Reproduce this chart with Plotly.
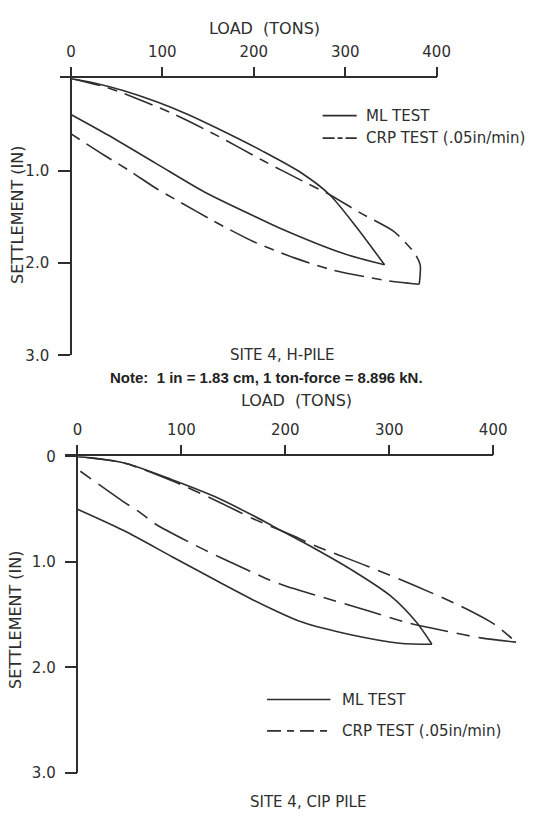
import plotly.graph_objects as go

W, H = 552, 823
INK = "#2e2e2e"
FONT = "DejaVu Sans"

# ---------------- data ----------------
load_ticks = [0, 100, 200, 300, 400]
load_tick_text = ["0", "100", "200", "300", "400"]
settle_ticks_top = [1, 2, 3]
settle_text_top = ["1.0", "2.0", "3.0"]
settle_ticks_bot = [0, 1, 2, 3]
settle_text_bot = ["0", "1.0", "2.0", "3.0"]

# Site 4, H-pile  (load in tons, settlement in inches)
h_ml_load_x = [0, 30, 57, 93, 128, 160, 210, 253, 283, 313, 343]
h_ml_load_y = [0, 0.06, 0.13, 0.25, 0.39, 0.54, 0.79, 1.03, 1.26, 1.62, 2.02]
h_ml_unload_x = [343, 299, 228, 200, 146, 93, 40, 0]
h_ml_unload_y = [2.02, 1.90, 1.62, 1.49, 1.23, 0.92, 0.61, 0.39]
h_crp_load_x = [0, 40, 80, 111, 160, 210, 253, 283, 317, 352, 366, 377, 382, 382, 381]
h_crp_load_y = [0, 0.10, 0.25, 0.38, 0.62, 0.89, 1.11, 1.26, 1.46, 1.65, 1.78, 1.91, 2.02, 2.12, 2.23]
h_crp_unload_x = [381, 370, 345, 288, 246, 200, 157, 114, 93, 64, 36, 0]
h_crp_unload_y = [2.23, 2.22, 2.19, 2.08, 1.95, 1.77, 1.55, 1.31, 1.19, 1.00, 0.83, 0.60]

# Site 4, CIP pile
c_ml_load_x = [0, 44, 91, 132, 169, 188, 226, 263, 301, 326, 341]
c_ml_load_y = [0, 0.06, 0.22, 0.38, 0.56, 0.66, 0.86, 1.07, 1.32, 1.57, 1.78]
c_ml_unload_x = [341, 310, 263, 216, 188, 169, 138, 91, 44, 0]
c_ml_unload_y = [1.78, 1.77, 1.69, 1.57, 1.45, 1.36, 1.20, 0.95, 0.70, 0.50]
c_crp_load_x = [0, 44, 91, 138, 169, 207, 232, 279, 326, 369, 401, 422]
c_crp_load_y = [0, 0.06, 0.23, 0.44, 0.59, 0.75, 0.86, 1.04, 1.23, 1.42, 1.59, 1.76]
c_crp_unload_x = [422, 388, 357, 319, 282, 248, 201, 182, 169, 138, 107, 75, 60, 43, 0]
c_crp_unload_y = [1.76, 1.72, 1.66, 1.58, 1.47, 1.37, 1.23, 1.16, 1.10, 0.96, 0.81, 0.64, 0.53, 0.42, 0.12]

legend_labels = ["ML TEST", "CRP TEST (.05in/min)"]
captions = ["SITE 4, H-PILE", "SITE 4, CIP PILE"]
note_text = "Note:  1 in = 1.83 cm, 1 ton-force = 8.896 kN."
x_title = "LOAD  (TONS)"
y_title = "SETTLEMENT (IN)"

# ---------------- helpers ----------------
def fx(p):
    return p / W

def fy(p):
    return 1 - p / H

TOP_DASH = "30px,8px,10px,8px"
BOT_DASH = "38px,9px,13px,9px"

def curve(x, y, xa, ya, dash="solid"):
    return go.Scatter(x=x, y=y, mode="lines", xaxis=xa, yaxis=ya,
                      line=dict(color=INK, width=1.6, dash=dash, shape="spline", smoothing=0.8),
                      showlegend=False, hoverinfo="skip")

fig = go.Figure()
fig.add_trace(curve(h_ml_load_x, h_ml_load_y, "x", "y"))
fig.add_trace(curve(h_ml_unload_x, h_ml_unload_y, "x", "y"))
fig.add_trace(curve(h_crp_load_x, h_crp_load_y, "x", "y", TOP_DASH))
fig.add_trace(curve(h_crp_unload_x, h_crp_unload_y, "x", "y", TOP_DASH))
# empty trace so that the visible bottom axis (x2/y2) subplot is created
fig.add_trace(go.Scatter(x=[], y=[], xaxis="x2", yaxis="y2", mode="lines",
                         showlegend=False, hoverinfo="skip"))
fig.add_trace(curve(c_ml_load_x, c_ml_load_y, "x3", "y2"))
fig.add_trace(curve(c_ml_unload_x, c_ml_unload_y, "x3", "y2"))
fig.add_trace(curve(c_crp_load_x, c_crp_load_y, "x3", "y2", BOT_DASH))
fig.add_trace(curve(c_crp_unload_x, c_crp_unload_y, "x3", "y2", BOT_DASH))

tickfont = dict(family=FONT, size=15, color=INK)

def xaxis(domain, anchor):
    return dict(domain=domain, range=[-12, 400], side="top", anchor=anchor,
                tickmode="array", tickvals=load_ticks, ticktext=load_tick_text,
                ticks="outside", ticklen=10, tickwidth=1.5, tickcolor=INK,
                showline=True, linewidth=1.5, linecolor=INK,
                showgrid=False, zeroline=False, tickfont=tickfont,
                ticklabelstandoff=4, fixedrange=True)

def yaxis(domain, pos, vals, text):
    return dict(domain=domain, range=[3, 0], anchor="free", position=pos,
                tickmode="array", tickvals=vals, ticktext=text,
                ticks="outside", ticklen=12, tickwidth=1.5, tickcolor=INK,
                showline=True, linewidth=1.5, linecolor=INK,
                showgrid=False, zeroline=False, tickfont=tickfont,
                ticklabelstandoff=6, fixedrange=True)

# bottom chart: visible axis spans 0-400; data axis with identical scale runs a bit further
b_left, b_right = 66.7, 506.0
b_scale = (b_right - b_left) / 412.0
b_data_right = b_left + b_scale * 444.0

fig.update_layout(
    width=W, height=H,
    margin=dict(l=0, r=0, t=0, b=0),
    paper_bgcolor="white", plot_bgcolor="rgba(0,0,0,0)",
    showlegend=False,
    xaxis=xaxis([fx(61.5), fx(448)], "y"),
    yaxis=yaxis([fy(354), fy(71)], fx(72.8), settle_ticks_top, settle_text_top),
    xaxis2=xaxis([fx(b_left), fx(b_right)], "y2"),
    xaxis3=dict(domain=[fx(b_left), fx(b_data_right)], range=[-12, 432], anchor="y2",
                visible=False, fixedrange=True),
    yaxis2=yaxis([fy(781), fy(457.5)], fx(79.5), settle_ticks_bot, settle_text_bot),
)

lab = dict(family=FONT, size=16, color=INK)
ann = []
def text(t, x, y, xanchor="center", font=lab, angle=0):
    ann.append(dict(text=t, x=fx(x), y=fy(y), xref="paper", yref="paper",
                    xanchor=xanchor, yanchor="middle", showarrow=False,
                    font=font, textangle=angle))

text(x_title, 271, 20)
text(x_title, 304, 400)
text(y_title, 18, 211, angle=-90)
text(y_title, 16, 625, angle=-90)
cap = dict(family=FONT, size=15, color=INK)
text(captions[0], 289, 354, font=cap)
text(note_text, 273, 377, font=dict(family="Liberation Sans", size=15, color="#222222", weight="bold"))
text(captions[1], 316, 811, font=cap)

leg = dict(family=FONT, size=15, color=INK)
text(legend_labels[0], 373, 109, "left", leg)
text(legend_labels[1], 373, 132, "left", leg)
text(legend_labels[0], 349, 706, "left", leg)
text(legend_labels[1], 349, 738, "left", leg)
fig.update_layout(annotations=ann)

# legend key samples
shapes = []
def key(x0, x1, y, dash):
    shapes.append(dict(type="line", xref="paper", yref="paper",
                       x0=fx(x0), x1=fx(x1), y0=fy(y), y1=fy(y),
                       line=dict(color=INK, width=1.6, dash=dash)))
key(331, 366, 109, "solid")
key(331, 366, 132, "12px,3px,5px,3px")
key(274, 339, 706, "solid")
key(274, 339, 738, "14px,6px,7px,6px")
fig.update_layout(shapes=shapes)

fig.write_html("out.html")
